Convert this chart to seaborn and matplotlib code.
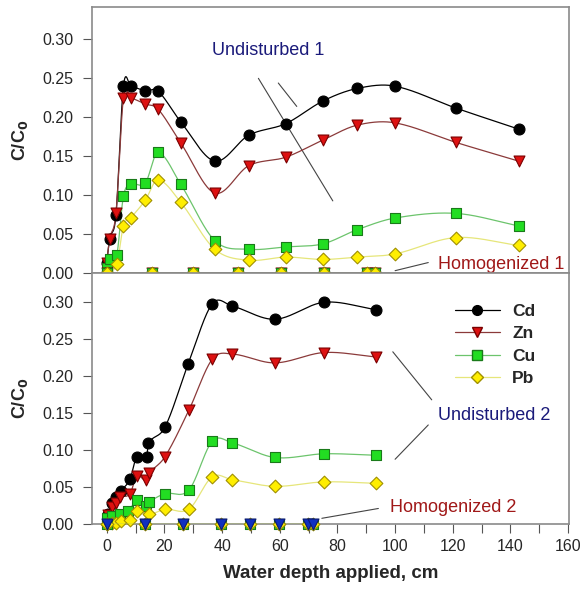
import numpy as np
import pandas as pd
import matplotlib
matplotlib.use("Agg")
import matplotlib.pyplot as plt
from matplotlib.lines import Line2D
import seaborn as sns

# ---------------- data ----------------
metals = ["Cd", "Zn", "Cu", "Pb"]

# Top panel: Undisturbed 1
u1_cd_x = [0, 1.0, 3.2, 5.8, 8.3, 13.4, 17.7, 25.7, 37.5, 49.2, 62.1, 75.0, 86.8, 99.9, 121.0, 142.8]
u1_cd_y = [0.012, 0.043, 0.074, 0.239, 0.239, 0.233, 0.233, 0.193, 0.143, 0.176, 0.191, 0.220, 0.236, 0.239, 0.211, 0.184]
u1_zn_x = [0, 1.0, 3.2, 5.8, 8.3, 13.4, 17.7, 25.7, 37.5, 49.2, 62.1, 75.0, 86.8, 99.9, 121.0, 142.8]
u1_zn_y = [0.012, 0.043, 0.076, 0.224, 0.224, 0.216, 0.210, 0.166, 0.102, 0.137, 0.148, 0.170, 0.189, 0.192, 0.167, 0.143]
u1_cu_x = [0, 1.0, 3.5, 5.8, 8.3, 13.4, 17.7, 25.7, 37.5, 49.2, 62.1, 75.0, 86.8, 99.9, 121.0, 142.8]
u1_cu_y = [0.006, 0.018, 0.023, 0.098, 0.113, 0.115, 0.154, 0.113, 0.041, 0.030, 0.033, 0.037, 0.055, 0.070, 0.076, 0.060]
u1_pb_x = [0, 3.5, 5.8, 8.3, 13.4, 17.7, 25.7, 37.5, 49.2, 62.1, 75.0, 86.8, 99.9, 121.0, 142.8]
u1_pb_y = [0.000, 0.011, 0.060, 0.070, 0.093, 0.119, 0.090, 0.030, 0.016, 0.020, 0.017, 0.020, 0.024, 0.045, 0.035]

# Top panel: Homogenized 1
h1_x = [0, 15.6, 29.8, 45.4, 60.3, 75.3, 90.3, 93.2]
h1_y = [0.0, 0.0, 0.0, 0.0, 0.0, 0.0, 0.0, 0.0]

# Bottom panel: Undisturbed 2
u2_cd_x = [0.6, 1.7, 3.2, 5.0, 8.1, 10.4, 13.9, 14.4, 20.2, 28.3, 36.6, 43.4, 58.3, 75.4, 93.3]
u2_cd_y = [0.013, 0.028, 0.037, 0.045, 0.061, 0.091, 0.091, 0.109, 0.131, 0.217, 0.298, 0.295, 0.277, 0.300, 0.290]
u2_zn_x = [0.6, 1.7, 3.2, 4.6, 8.1, 10.4, 13.6, 14.8, 20.2, 28.5, 36.6, 43.4, 58.3, 75.4, 93.3]
u2_zn_y = [0.012, 0.023, 0.029, 0.036, 0.041, 0.065, 0.059, 0.069, 0.091, 0.154, 0.223, 0.230, 0.218, 0.232, 0.226]
u2_cu_x = [0, 1.7, 4.6, 7.5, 10.4, 13.6, 14.8, 20.2, 28.5, 36.6, 43.4, 58.3, 75.4, 93.3]
u2_cu_y = [0.008, 0.011, 0.014, 0.017, 0.033, 0.024, 0.030, 0.041, 0.046, 0.112, 0.110, 0.090, 0.095, 0.093]
u2_pb_x = [0, 1.7, 3.2, 5.0, 8.1, 10.4, 14.8, 20.2, 28.5, 36.6, 43.4, 58.3, 75.4, 93.3]
u2_pb_y = [0.000, 0.001, 0.002, 0.004, 0.006, 0.017, 0.013, 0.020, 0.020, 0.064, 0.060, 0.051, 0.057, 0.055]

# Bottom panel: Homogenized 2
h2_x = [0, 13.3, 26.3, 39.5, 49.7, 59.7, 69.9, 71.7]
h2_y = [0.0, 0.0, 0.0, 0.0, 0.0, 0.0, 0.0, 0.0]

yticks = [0.00, 0.05, 0.10, 0.15, 0.20, 0.25, 0.30]
xticks = [0, 20, 40, 60, 80, 100, 120, 140, 160]

# ---------------- style ----------------
sns.set_theme(style="ticks")
plt.rcParams["font.family"] = ["Liberation Sans", "DejaVu Sans"]

styles = {
    "Cd": dict(line="#000000", face="#000000", edge="#000000", marker="o"),
    "Zn": dict(line="#8b3a3a", face="#dd1111", edge="#7a0000", marker="v"),
    "Cu": dict(line="#6cc46c", face="#22dd22", edge="#1a7a1a", marker="s"),
    "Pb": dict(line="#e6e67a", face="#ffee00", edge="#a09000", marker="D"),
}
msize = {"o": 62, "v": 62, "s": 48, "D": 42}


def smooth_curve(x, y, n=40):
    """Piecewise cubic Hermite (Catmull-Rom style) curve through the points."""
    x = np.asarray(x, float)
    y = np.asarray(y, float)
    k = len(x)
    m = np.zeros(k)
    m[0] = (y[1] - y[0]) / (x[1] - x[0])
    m[-1] = (y[-1] - y[-2]) / (x[-1] - x[-2])
    for i in range(1, k - 1):
        m[i] = (y[i + 1] - y[i - 1]) / (x[i + 1] - x[i - 1])
    xs_all, ys_all = [], []
    for i in range(k - 1):
        h = x[i + 1] - x[i]
        t = np.linspace(0, 1, n)
        h00 = 2 * t**3 - 3 * t**2 + 1
        h10 = t**3 - 2 * t**2 + t
        h01 = -2 * t**3 + 3 * t**2
        h11 = t**3 - t**2
        xs_all.append(x[i] + t * h)
        ys_all.append(h00 * y[i] + h10 * h * m[i] + h01 * y[i + 1] + h11 * h * m[i + 1])
    return np.concatenate(xs_all), np.concatenate(ys_all)


def draw_series(ax, x, y, metal, z=3, face=None, edge=None, line=None):
    st = styles[metal]
    xs, ys = smooth_curve(x, y)
    curve = pd.DataFrame({"x": xs, "y": ys})
    sns.lineplot(data=curve, x="x", y="y", ax=ax, color=line or st["line"], lw=0.9,
                 sort=False, estimator=None, zorder=z)
    pts = pd.DataFrame({"x": x, "y": y})
    sns.scatterplot(data=pts, x="x", y="y", ax=ax, marker=st["marker"],
                    s=msize[st["marker"]], color=face or st["face"],
                    edgecolor=edge or st["edge"], linewidth=0.8, zorder=z + 1,
                    clip_on=False)


fig = plt.figure(figsize=(5.85, 5.91), dpi=100)
L, R = 92 / 585, 569 / 585
y_mid = 1 - 272.7 / 591
y_top = 1 - 7.3 / 591
y_bot = 1 - 524 / 591
ax1 = fig.add_axes([L, y_mid, R - L, y_top - y_mid])
ax2 = fig.add_axes([L, y_bot, R - L, y_mid - y_bot])

# Top panel
for mtl, xx, yy in [("Cd", u1_cd_x, u1_cd_y), ("Zn", u1_zn_x, u1_zn_y),
                    ("Cu", u1_cu_x, u1_cu_y), ("Pb", u1_pb_x, u1_pb_y)]:
    draw_series(ax1, xx, yy, mtl, z=3)
for mtl in metals:
    draw_series(ax1, h1_x, h1_y, mtl, z=5)

# Bottom panel
for mtl, xx, yy in [("Cd", u2_cd_x, u2_cd_y), ("Zn", u2_zn_x, u2_zn_y),
                    ("Cu", u2_cu_x, u2_cu_y), ("Pb", u2_pb_x, u2_pb_y)]:
    draw_series(ax2, xx, yy, mtl, z=3)
draw_series(ax2, h2_x, h2_y, "Cu", z=5)
draw_series(ax2, h2_x, h2_y, "Pb", z=6)
draw_series(ax2, h2_x, h2_y, "Zn", z=7, face="#1030c0", edge="#0a1a70", line="#b8b060")

for ax in (ax1, ax2):
    ax.set_xlim(-5.1, 160.3)
    ax.set_ylim(0, 0.34)
    ax.set_yticks(yticks)
    ax.set_yticklabels([f"{v:.2f}" for v in yticks], fontsize=11.5)
    ax.set_xticks(xticks)
    ax.set_xticks(np.arange(10, 160, 20), minor=True)
    ax.tick_params(axis="both", which="both", direction="out", length=6.5,
                   width=0.8, color="#555555", pad=4)
    ax.tick_params(axis="y", pad=7)
    for s in ax.spines.values():
        s.set_visible(True)
        s.set_color("#8a8a8a")
        s.set_linewidth(1.2)
    ax.set_ylabel("C/C$_\\mathbf{0}$", fontsize=13, fontweight="bold", labelpad=9)
    ax.set_xlabel("")
    ax.set_facecolor("white")

ax1.set_xticklabels([])
ax2.set_xticklabels([str(v) for v in xticks], fontsize=11.5)
ax2.set_xlabel("Water depth applied, cm", fontsize=13.5, fontweight="bold", labelpad=8)

# Annotations
navy = "#1a1a7a"
dred = "#a01818"
ax1.text(56, 0.285, "Undisturbed 1", color=navy, fontsize=13, ha="center", va="center")
ax1.plot([52.6, 78.4], [0.249, 0.092], color="#444444", lw=0.8, zorder=2)
ax1.plot([59.5, 65.9], [0.243, 0.213], color="#444444", lw=0.8, zorder=2)
ax1.text(136.8, 0.011, "Homogenized 1", color=dred, fontsize=13, ha="center", va="center")
ax1.plot([100, 111.5], [0.0026, 0.013], color="#444444", lw=0.8, zorder=2)

ax2.text(134.3, 0.147, "Undisturbed 2", color=navy, fontsize=13, ha="center", va="center")
ax2.plot([99.2, 112.7], [0.233, 0.168], color="#444444", lw=0.8, zorder=2)
ax2.plot([100, 111.5], [0.0876, 0.134], color="#444444", lw=0.8, zorder=2)
ax2.text(120.1, 0.022, "Homogenized 2", color=dred, fontsize=13, ha="center", va="center")
ax2.plot([74.6, 94.2], [0.0077, 0.021], color="#444444", lw=0.8, zorder=2)

# Legend
handles = []
for mtl in metals:
    st = styles[mtl]
    handles.append(Line2D([0], [0], color=st["line"], lw=0.9, marker=st["marker"],
                          markerfacecolor=st["face"], markeredgecolor=st["edge"],
                          markersize=7 if st["marker"] != "D" else 6))
leg = ax2.legend(handles, metals, loc="upper right", bbox_to_anchor=(0.955, 0.925),
                 frameon=False, handlelength=2.6, handletextpad=0.7,
                 labelspacing=0.42, borderpad=0.2, prop=dict(size=12.5, weight="bold"))

fig.savefig("out.png", dpi=100)
